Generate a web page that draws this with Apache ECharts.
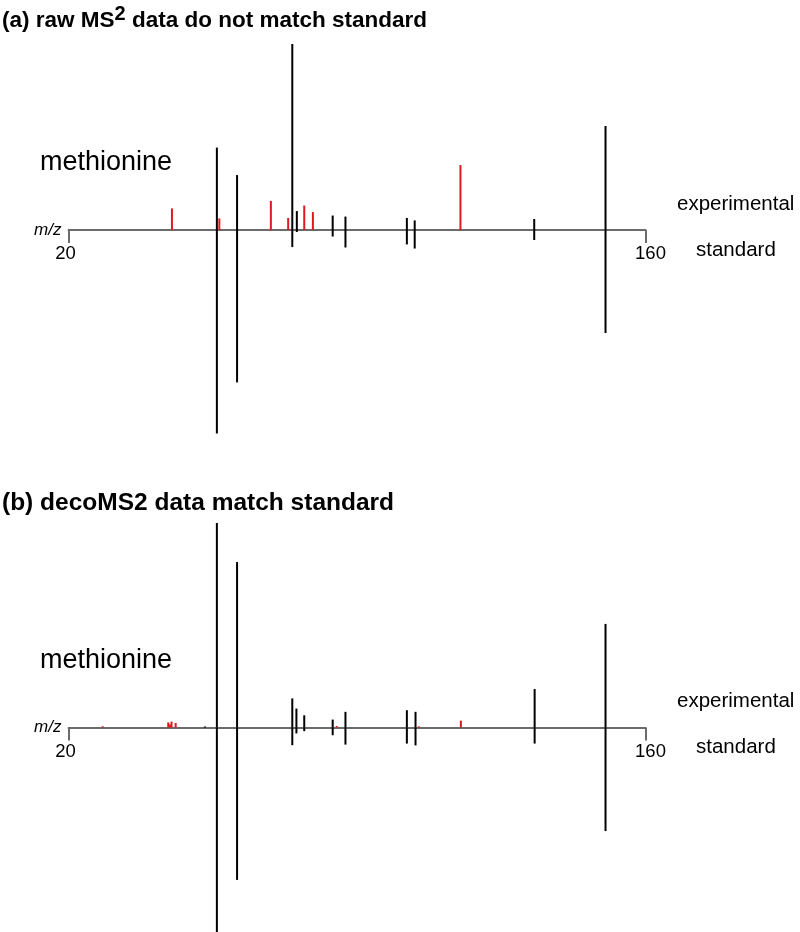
<!DOCTYPE html>
<html>
<head>
<meta charset="utf-8">
<script src="https://cdn.jsdelivr.net/npm/echarts@6/dist/echarts.min.js"></script>
<style>html,body{margin:0;padding:0;background:#fff}#c{width:800px;height:932px}</style>
</head>
<body>
<div id="c"></div>
<script>
// m/z range and tick labels
var mzRange = [20, 160];
var tickLabels = ['20', '160'];
var panelTitles = ['(a) raw MS2 data do not match standard', '(b) decoMS2 data match standard'];
var compound = 'methionine';
var sideLabels = ['experimental', 'standard'];

// Panel (a): experimental peaks matching standard (black, up)
var aExpMatchMz  = [56.0, 60.9, 74.3, 75.4, 84.1, 87.2, 102.1, 104.0, 133.0, 150.3];
var aExpMatchInt = [40.5, 27.0, 91.4, 9.3, 7.1, 6.6, 5.9, 4.7, 5.4, 51.1];
// Panel (a): experimental peaks not matching (red, up)
var aExpOtherMz  = [45.1, 56.6, 69.1, 73.3, 77.2, 79.3, 115.1];
var aExpOtherInt = [10.6, 5.7, 14.3, 5.9, 12.0, 8.8, 31.9];
// Panel (a): standard (black, down)
var aStdMz  = [56.0, 60.9, 74.3, 75.4, 84.1, 87.2, 102.1, 104.0, 133.0, 150.3];
var aStdInt = [100, 74.9, 8.4, 1.0, 3.2, 8.6, 7.1, 9.1, 4.9, 50.6];

// Panel (b)
var bExpMatchMz  = [53.1, 56.0, 60.9, 74.3, 75.3, 77.2, 84.1, 87.2, 102.1, 104.2, 133.1, 150.3];
var bExpMatchInt = [0.5, 100.5, 81.3, 14.3, 9.3, 6.0, 3.9, 7.7, 8.5, 7.7, 18.9, 50.9];
var bExpOtherMz  = [28.3, 44.2, 44.6, 45.0, 46.0, 85.1, 105.0, 115.2];
var bExpOtherInt = [0.6, 2.5, 1.5, 2.9, 2.2, 0.7, 0.6, 3.4];
var bStdMz  = [56.0, 60.9, 74.3, 75.3, 77.2, 84.1, 87.2, 102.1, 104.2, 133.1, 150.3];
var bStdInt = [100.7, 74.9, 8.7, 2.9, 1.8, 3.8, 8.4, 7.9, 8.8, 7.9, 50.9];

function pairs(mz, it, sign) { return mz.map(function (m, i) { return [m, sign * it[i]]; }); }
function stick(color) {
  return function (params, api) {
    var x = api.value(0), y = api.value(1);
    var p0 = api.coord([x, 0]), p1 = api.coord([x, y]);
    return { type: 'line', shape: { x1: p0[0], y1: p0[1], x2: p1[0], y2: p1[1] },
      style: { stroke: color, lineWidth: 2 } };
  };
}
var FONT = '"Liberation Sans", Arial, sans-serif';
function xAx(gi) {
  return { gridIndex: gi, type: 'value', min: mzRange[0], max: mzRange[1], interval: mzRange[1] - mzRange[0],
    axisLine: { onZero: true, lineStyle: { color: '#6b6b6b', width: 2 } },
    axisTick: { show: true, length: 13, lineStyle: { color: '#6b6b6b', width: 2 } },
    axisLabel: { show: false },
    splitLine: { show: false },
    name: 'm/z', nameLocation: 'start', nameGap: 7,
    nameTextStyle: { fontStyle: 'italic', fontSize: 17, color: '#000', fontFamily: FONT } };
}
function yAx(gi) {
  return { gridIndex: gi, type: 'value', min: -100, max: 100, show: false,
    axisLine: { show: false }, axisTick: { show: false }, axisLabel: { show: false }, splitLine: { show: false } };
}
function ser(gi, data, color) {
  return { type: 'custom', xAxisIndex: gi, yAxisIndex: gi, clip: false, renderItem: stick(color), data: data, silent: true };
}
var chart = echarts.init(document.getElementById('c'), null, { renderer: 'canvas' });
function txt(x, y, s, size, extra) {
  var st = Object.assign({ text: s, fontSize: size, fontFamily: FONT, fill: '#000', textVerticalAlign: 'middle' }, extra || {});
  return { type: 'text', x: x, y: y, style: st };
}
chart.setOption({
  animation: false,
  grid: [
    { left: 68.5, width: 577, top: 26.5, height: 407, outerBoundsMode: 'none', containLabel: false },
    { left: 68.5, width: 577, top: 524, height: 407, outerBoundsMode: 'none', containLabel: false }
  ],
  xAxis: [xAx(0), xAx(1)],
  yAxis: [yAx(0), yAx(1)],
  series: [
    ser(0, pairs(aExpOtherMz, aExpOtherInt, 1), '#e0191e'),
    ser(0, pairs(aExpMatchMz, aExpMatchInt, 1), '#000'),
    ser(0, pairs(aStdMz, aStdInt, -1), '#000'),
    ser(1, pairs(bExpOtherMz, bExpOtherInt, 1), '#e0191e'),
    ser(1, pairs(bExpMatchMz, bExpMatchInt, 1), '#000'),
    ser(1, pairs(bStdMz, bStdInt, -1), '#000')
  ]
});

// Text placed relative to each panel's zero line
var g = [];
g.push({ type: 'text', x: 2, y: -2, style: {
  rich: { b: { fontSize: 22.5, fontWeight: 'bold', fontFamily: FONT, fill: '#000', lineHeight: 34, verticalAlign: 'bottom' },
          s: { fontSize: 20, fontWeight: 'bold', fontFamily: FONT, fill: '#000', lineHeight: 34, verticalAlign: 'bottom', padding: [0, 0, 8, 0] } },
  text: '{b|(a) raw MS}{s|2}{b| data do not match standard}' } });
g.push(txt(2, 503, panelTitles[1], 24.5, { fontWeight: 'bold' }));
[0, 1].forEach(function (gi) {
  var y0 = chart.convertToPixel({ yAxisIndex: gi }, 0);
  g.push(txt(40, y0 - 67, compound, 27));
  g.push(txt(677, y0 - 26, sideLabels[0], 20.5));
  g.push(txt(696, y0 + 20, sideLabels[1], 20.5));
  tickLabels.forEach(function (t, i) {
    var v = [mzRange[0], mzRange[1]][i];
    var px = chart.convertToPixel({ xAxisIndex: gi }, v);
    g.push(txt(px + (i === 0 ? -3 : 5), y0 + 24, t, 18.5, { textAlign: 'center' }));
  });
});
chart.setOption({ graphic: g });
</script>
</body>
</html>
